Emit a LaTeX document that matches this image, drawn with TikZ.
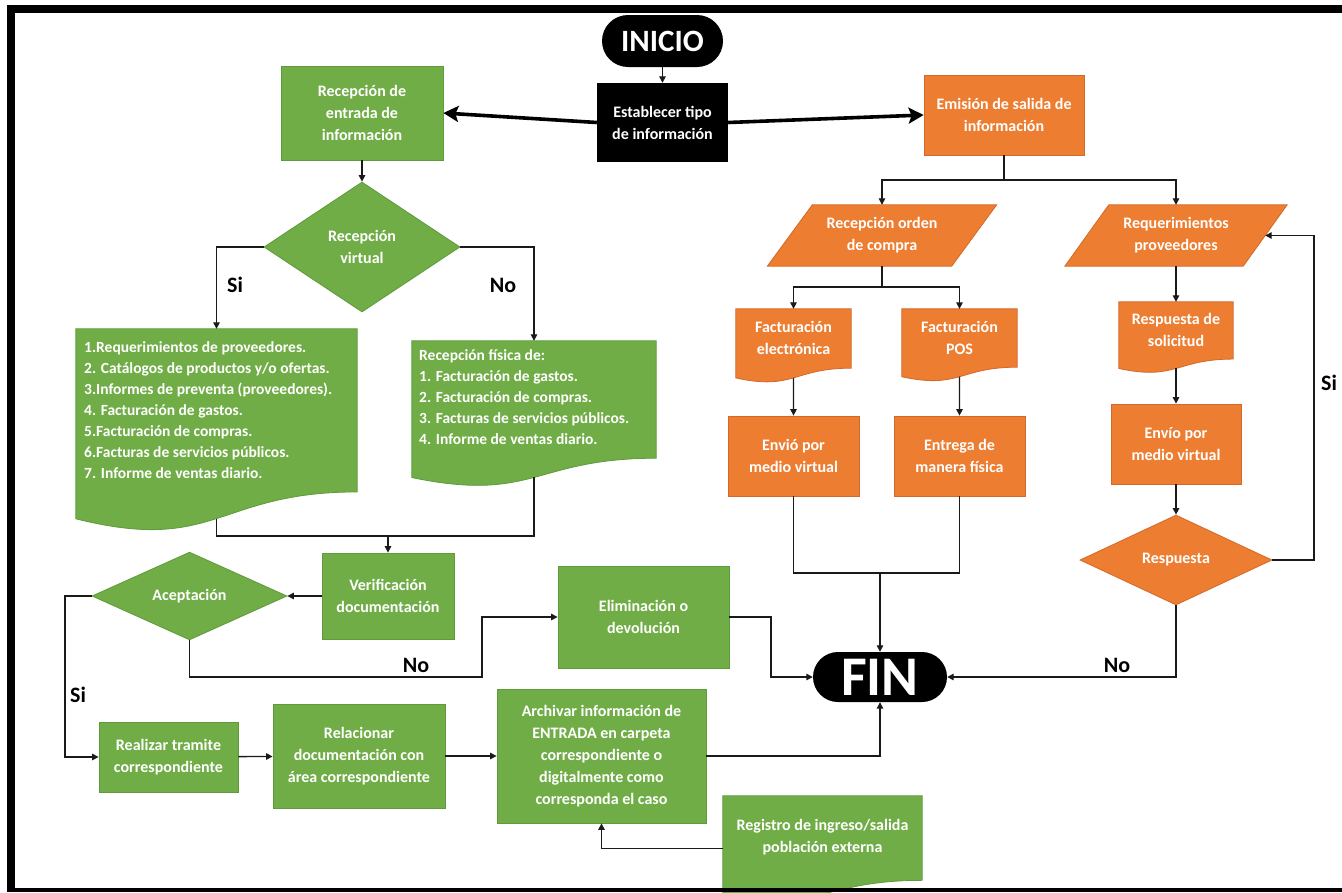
\documentclass[tikz,border=0pt]{standalone}
\usepackage{fontspec}
\setmainfont{Carlito}
\usetikzlibrary{shapes.geometric,arrows.meta,calc}
\pgfdeclarelayer{bg}
\pgfsetlayers{bg,main}

\definecolor{fgreen}{HTML}{70AD47}
\definecolor{fgreenline}{HTML}{5E9B3A}
\definecolor{forange}{HTML}{ED7D31}
\definecolor{forangeline}{HTML}{D2692A}
\definecolor{wire}{HTML}{1A1A1A}

\newcommand\flowfont{\bfseries\fontsize{16}{22}\selectfont}
\newcommand\listfont{\bfseries\fontsize{15.5}{21}\selectfont}

% document symbol drawn behind a named frame node
\newcommand\docshape[2]{%
  \begin{pgfonlayer}{bg}
    \begin{scope}
    \clip (0,0) rectangle (1342,892);
    \path[fill=#2, draw=#2line, line width=0.8pt]
      (#1.north west) -- (#1.north east)
      -- ($(#1.north east)!0.802!(#1.south east)$)
      .. controls ($(#1.north)!0.802!(#1.south)$) and ($(#1.north)!1.1075!(#1.south)$)
      .. ($(#1.north west)!0.934!(#1.south west)$) -- cycle;
    \end{scope}
  \end{pgfonlayer}}

% data (parallelogram) symbol drawn behind a named frame node
\newcommand\slantbox[3]{%
  \begin{pgfonlayer}{bg}
    \path[fill=#2, draw=#2line, line width=0.8pt]
      ($(#1.south west)+(-#3,0)$) -- ($(#1.south east)+(-#3,0)$)
      -- ($(#1.north east)+(#3,0)$) -- ($(#1.north west)+(#3,0)$) -- cycle;
  \end{pgfonlayer}}

\tikzset{
  box/.style={rectangle, draw=#1line, fill=#1, line width=0.8pt, text=white,
    font=\flowfont, align=center, inner sep=2pt},
  gbox/.style={box=fgreen},
  obox/.style={box=forange},
  blackbox/.style={rectangle, fill=black, text=white, font=\flowfont, align=center, inner sep=2pt},
  term/.style={rectangle, fill=black, text=white, inner sep=0pt},
  decision/.style={diamond, draw=#1line, fill=#1, line width=0.8pt, text=white,
    inner sep=0pt, font=\flowfont, align=center},
  frame/.style={rectangle, inner sep=0pt, text=white, font=\flowfont, align=center},
  doctext/.style={text=white, font=\flowfont, align=center, inner sep=0pt},
  listtext/.style={text=white, font=\listfont, align=left, inner sep=0pt},
  conn/.style={draw=wire, line width=1.3pt, -{Triangle[length=6.5pt,width=6.5pt]}},
  plain/.style={draw=wire, line width=1.3pt},
  bigarrow/.style={draw=black, line width=3.6pt, -{Stealth[length=15pt,width=16pt,inset=3pt]}},
  lbl/.style={font=\bfseries\fontsize{22}{24}\selectfont, text=black, inner sep=0pt},
}

\begin{document}
\begin{tikzpicture}[x=1pt,y=-1pt]
\useasboundingbox (0,0) rectangle (1342,892);
\begin{pgfonlayer}{bg}
  \fill[white] (0,0) rectangle (1342,892);
\end{pgfonlayer}

% ---------- start ----------
\node[term, minimum width=121pt, minimum height=52pt, rounded corners=26pt,
  font=\bfseries\fontsize{31}{31}\selectfont] (ini) at (662.5,41) {INICIO};
\node[blackbox, minimum width=131pt, minimum height=79pt] (est) at (662.5,122.5)
  {Establecer tipo\\de información};

% ---------- incoming information (green) ----------
\node[gbox, minimum width=162pt, minimum height=94pt] (rent) at (362,113)
  {Recepción de\\entrada de\\información};
\node[decision=fgreen, minimum width=196pt, minimum height=130pt] (rvir) at (362,247)
  {Recepción\\virtual};

\node[frame, minimum width=281pt, minimum height=203pt] (d1) at (216.5,430.5) {};
\docshape{d1}{fgreen}
\node[listtext, anchor=west] (d1t) at (84,410)
  {1.Requerimientos de proveedores.\\
   2. Catálogos de productos y/o ofertas.\\
   3.Informes de preventa (proveedores).\\
   4. Facturación de gastos.\\
   5.Facturación de compras.\\
   6.Facturas de servicios públicos.\\
   7. Informe de ventas diario.};
\coordinate (d1b) at ($(d1.north)!0.933!(d1.south)$);

\node[frame, minimum width=244pt, minimum height=146pt] (d2) at (534,414) {};
\docshape{d2}{fgreen}
\node[listtext, anchor=west] (d2t) at (419,397.5)
  {Recepción física de:\\
   1. Facturación de gastos.\\
   2. Facturación de compras.\\
   3. Facturas de servicios públicos.\\
   4. Informe de ventas diario.};
\coordinate (d2b) at ($(d2.north)!0.933!(d2.south)$);

\node[gbox, minimum width=132pt, minimum height=86pt] (ver) at (388,596)
  {Verificación\\documentación};
\node[decision=fgreen, minimum width=195pt, minimum height=85pt] (acep) at (189.5,596)
  {Aceptación};
\node[gbox, minimum width=171pt, minimum height=102pt] (elim) at (643.5,617)
  {Eliminación o\\devolución};
\node[gbox, minimum width=139pt, minimum height=70pt] (real) at (168.5,757)
  {Realizar tramite\\correspondiente};
\node[gbox, minimum width=172pt, minimum height=104pt] (rel) at (359,756)
  {Relacionar\\documentación con\\área correspondiente};
\node[gbox, minimum width=209pt, minimum height=134pt] (arch) at (601.5,756)
  {Archivar información de\\ENTRADA en carpeta\\correspondiente o\\digitalmente como\\corresponda el caso};

\node[frame, minimum width=199pt, minimum height=105pt] (regf) at (822.5,848.5) {};
\docshape{regf}{fgreen}
\node[doctext] (regt) at (822.5,837) {Registro de ingreso/salida\\población externa};

% ---------- end ----------
\node[term, minimum width=134pt, minimum height=50pt, rounded corners=25pt,
  font=\bfseries\fontsize{56}{56}\selectfont] (fin) at (880,677) {FIN};

% ---------- outgoing information (orange) ----------
\node[obox, minimum width=160pt, minimum height=80pt] (emi) at (1004,115)
  {Emisión de salida de\\información};

\node[frame, minimum width=184pt, minimum height=61pt] (roc) at (882,235.5)
  {Recepción orden\\de compra};
\slantbox{roc}{forange}{22.5}
\node[frame, minimum width=178pt, minimum height=61pt] (req) at (1176,235.5)
  {Requerimientos\\proveedores};
\slantbox{req}{forange}{22}

\node[frame, minimum width=115pt, minimum height=73.6pt] (fe) at (793.5,345.8) {};
\docshape{fe}{forange}
\node[doctext] (fet) at (793.5,338) {Facturación\\electrónica};
\coordinate (feb) at ($(fe.north)!0.933!(fe.south)$);

\node[frame, minimum width=115pt, minimum height=72.3pt] (pos) at (959.5,345.2) {};
\docshape{pos}{forange}
\node[doctext] (post) at (959.5,338) {Facturación\\POS};
\coordinate (posb) at ($(pos.north)!0.933!(pos.south)$);

\node[frame, minimum width=114pt, minimum height=71pt] (rs) at (1176,337.5) {};
\docshape{rs}{forange}
\node[doctext] (rst) at (1176,329.5) {Respuesta de\\solicitud};
\coordinate (rsb) at ($(rs.north)!0.933!(rs.south)$);

\node[obox, minimum width=131pt, minimum height=80pt] (env1) at (793.5,456)
  {Envió por\\medio virtual};
\node[obox, minimum width=131pt, minimum height=80pt] (ent) at (959.5,456)
  {Entrega de\\manera física};
\node[obox, minimum width=130pt, minimum height=80pt] (env2) at (1176,444)
  {Envío por\\medio virtual};
\node[decision=forange, minimum width=192pt, minimum height=90pt] (resp) at (1176,560)
  {Respuesta};

% ---------- bend points ----------
\coordinate (mrg) at (388,536);
\coordinate (sibend) at (65,596);
\coordinate (nobend) at (482,677);
\coordinate (elbend) at (771,617);
\coordinate (finjoin) at (880,573);
\coordinate (emsplit) at (1004,180);
\coordinate (rocsplit) at (882,287);
\coordinate (sibend2) at (1314,560);

% ---------- connectors ----------
\draw[conn] (ini) -- (est);
\draw[bigarrow] (est.west) -- (rent.east);
\draw[bigarrow] (est.east) -- (emi.west);

\draw[conn] (rent) -- (rvir);
\draw[conn] (rvir.west) -| (d1.north);
\draw[conn] (rvir.east) -| (d2.north);
\draw[plain] (d1b) |- (mrg);
\draw[plain] (d2b) |- (mrg);
\draw[conn] (mrg) -- (ver.north);
\draw[conn] (ver.west) -- (acep.east);
\draw[conn] (acep.west) -- (sibend) |- (real.west);
\draw[conn] (acep.south) |- (nobend) |- (elim.west);
\draw[conn] (elim.east) -- (elbend) |- (fin.west);
\draw[conn] (real) -- (rel);
\draw[conn] (rel) -- (arch);
\draw[conn] (arch.east) -| (fin.south);
\draw[conn] (regf.west) -| (arch.south);

\draw[plain] (emi.south) -- (emsplit);
\draw[conn] (emsplit) -| (roc.north);
\draw[conn] (emsplit) -| (req.north);
\draw[plain] (roc.south) -- (rocsplit);
\draw[conn] (rocsplit) -| (fe.north);
\draw[conn] (rocsplit) -| (pos.north);
\draw[conn] (feb) -- (env1.north);
\draw[conn] (posb) -- (ent.north);
\draw[plain] (env1.south) |- (finjoin);
\draw[plain] (ent.south) |- (finjoin);
\draw[conn] (finjoin) -- (fin.north);

\draw[conn] (req.south) -- (rs.north);
\draw[conn] (rsb) -- (env2.north);
\draw[conn] (env2.south) -- (resp.north);
\draw[conn] (resp.east) -- (sibend2) |- (req.east);
\draw[conn] (resp.south) |- (fin.east);

% ---------- branch labels ----------
\node[lbl] (lsi1) at (235,285) {Si};
\node[lbl] (lno1) at (503,285) {No};
\node[lbl] (lsi2) at (78,695) {Si};
\node[lbl] (lno2) at (416,665) {No};
\node[lbl] (lno3) at (1117,665) {No};
\node[lbl] (lsi3) at (1329,383) {Si};

% ---------- page frame ----------
\fill[black] (7,5) rectangle (15,892);
\fill[black] (7,5) rectangle (1342,13);
\fill[black] (7,887.5) rectangle (1342,892);
\end{tikzpicture}
\end{document}
